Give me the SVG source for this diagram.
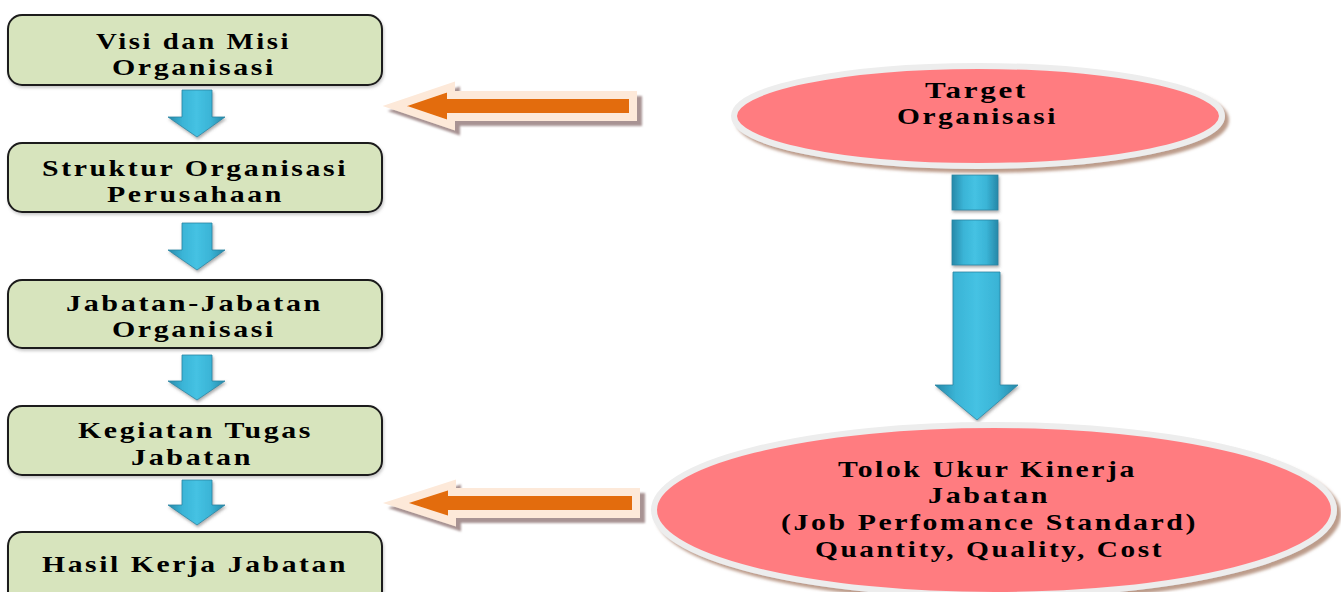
<svg xmlns="http://www.w3.org/2000/svg" width="1341" height="592" viewBox="0 0 1341 592">
<style>
.box{fill:#D7E4BD;stroke:#1a1a1a;stroke-width:2}
.t{font-family:"Liberation Serif","Times New Roman",serif;font-weight:bold;font-size:23px;letter-spacing:2px;fill:#000}
.ell{fill:#FF7C80;stroke:#EDEDED;stroke-width:6}
.oa{fill:#E36C0A;stroke:#FDE9D9;stroke-width:8;stroke-linejoin:miter;stroke-miterlimit:10}
.ba{fill:url(#blue);stroke:#2a86a3;stroke-width:0.8}
</style>
<defs>
<linearGradient id="blue" x1="0" y1="0" x2="1" y2="0">
<stop offset="0" stop-color="#2788A8"/>
<stop offset="0.25" stop-color="#3AB4D6"/>
<stop offset="0.5" stop-color="#45C2E3"/>
<stop offset="0.75" stop-color="#3AB4D6"/>
<stop offset="1" stop-color="#2788A8"/>
</linearGradient>
<filter id="sh" x="-10%" y="-20%" width="130%" height="150%">
<feDropShadow dx="4" dy="4" stdDeviation="1.5" flood-color="#A0725A" flood-opacity="0.7"/>
</filter>
<filter id="shg" x="-10%" y="-30%" width="130%" height="170%">
<feDropShadow dx="5" dy="5" stdDeviation="1.2" flood-color="#8B6E6E" flood-opacity="0.75"/>
</filter>
<filter id="shb" x="-30%" y="-20%" width="160%" height="150%">
<feDropShadow dx="1" dy="2" stdDeviation="1.5" flood-color="#555" flood-opacity="0.5"/>
</filter>
<filter id="shbox" x="-5%" y="-10%" width="110%" height="130%">
<feDropShadow dx="1" dy="2" stdDeviation="1.5" flood-color="#777" flood-opacity="0.4"/>
</filter>
</defs>

<g id="connectors">
<path class="ba" filter="url(#shb)" d="M182,90 H212 V117 H225 L197,137 L168,117 H182 Z"/>
<path class="ba" filter="url(#shb)" d="M182,223 H212 V250 H225 L197,270 L168,250 H182 Z"/>
<path class="ba" filter="url(#shb)" d="M182,355 H212 V381 H225 L197,400 L168,381 H182 Z"/>
<path class="ba" filter="url(#shb)" d="M182,480 H212 V505 H225 L197,525 L168,505 H182 Z"/>
<path class="oa" filter="url(#shg)" d="M395,106 L451,87 V95 H633 V117 H451 V125 Z"/>
<path class="oa" filter="url(#shg)" d="M396,503 L452,485 V492 H636 V514 H452 V521 Z"/>
<rect class="ba" filter="url(#shb)" x="952" y="175" width="46" height="35"/>
<rect class="ba" filter="url(#shb)" x="952" y="220" width="46" height="45"/>
<path class="ba" filter="url(#shb)" d="M953,272 H1000 V385 H1018 L977,420 L935,385 H953 Z"/>
</g>

<g id="n1">
<rect class="box" filter="url(#shbox)" x="8" y="15" width="374" height="70" rx="14"/>
<text class="t" x="96" y="49" textLength="195" lengthAdjust="spacingAndGlyphs">Visi dan Misi</text>
<text class="t" x="112" y="75" textLength="164" lengthAdjust="spacingAndGlyphs">Organisasi</text>
</g>
<g id="n2">
<rect class="box" filter="url(#shbox)" x="8" y="143" width="374" height="69" rx="14"/>
<text class="t" x="42" y="176" textLength="306" lengthAdjust="spacingAndGlyphs">Struktur  Organisasi</text>
<text class="t" x="107" y="202" textLength="177" lengthAdjust="spacingAndGlyphs">Perusahaan</text>
</g>
<g id="n3">
<rect class="box" filter="url(#shbox)" x="8" y="280" width="374" height="68" rx="14"/>
<text class="t" x="66" y="311" textLength="257" lengthAdjust="spacingAndGlyphs">Jabatan-Jabatan</text>
<text class="t" x="112" y="337" textLength="164" lengthAdjust="spacingAndGlyphs">Organisasi</text>
</g>
<g id="n4">
<rect class="box" filter="url(#shbox)" x="8" y="406" width="374" height="69" rx="14"/>
<text class="t" x="78" y="438" textLength="235" lengthAdjust="spacingAndGlyphs">Kegiatan Tugas</text>
<text class="t" x="131" y="465" textLength="122" lengthAdjust="spacingAndGlyphs">Jabatan</text>
</g>
<g id="n5">
<rect class="box" filter="url(#shbox)" x="8" y="532" width="374" height="90" rx="14"/>
<text class="t" x="42" y="572" textLength="306" lengthAdjust="spacingAndGlyphs">Hasil Kerja  Jabatan</text>
</g>
<g id="n6">
<ellipse class="ell" filter="url(#sh)" cx="978" cy="116" rx="244" ry="50"/>
<text class="t" x="925" y="98" textLength="103" lengthAdjust="spacingAndGlyphs">Target</text>
<text class="t" x="897" y="124" textLength="161" lengthAdjust="spacingAndGlyphs">Organisasi</text>
</g>
<g id="n7">
<ellipse class="ell" filter="url(#sh)" cx="994" cy="510" rx="340" ry="85"/>
<text class="t" x="838" y="477" textLength="299" lengthAdjust="spacingAndGlyphs">Tolok Ukur  Kinerja</text>
<text class="t" x="928" y="503" textLength="122" lengthAdjust="spacingAndGlyphs">Jabatan</text>
<text class="t" x="781" y="530" textLength="417" lengthAdjust="spacingAndGlyphs">(Job Perfomance Standard)</text>
<text class="t" x="815" y="557" textLength="349" lengthAdjust="spacingAndGlyphs">Quantity, Quality, Cost</text>
</g>
</svg>
